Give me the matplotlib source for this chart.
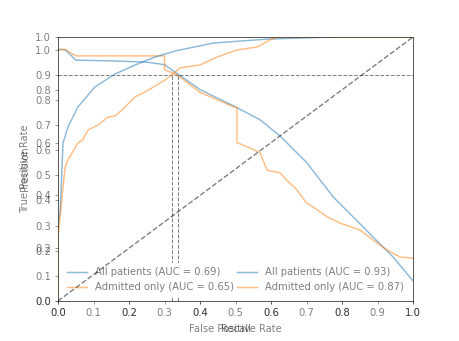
import numpy as np
import matplotlib
matplotlib.use("Agg")
import matplotlib.pyplot as plt

# ROC curves (false positive rate, true positive rate)
fpr_all = [0.0, 0.0, 0.006, 0.011, 0.014, 0.028, 0.056, 0.104, 0.161, 0.217,
           0.273, 0.330, 0.437, 0.589, 0.775, 1.0]
tpr_all = [0.0, 0.30, 0.333, 0.496, 0.598, 0.659, 0.735, 0.811, 0.860, 0.894,
           0.924, 0.947, 0.977, 0.992, 1.0, 1.0]
fpr_adm = [0.0, 0.0, 0.003, 0.02, 0.028, 0.056, 0.07, 0.085, 0.113, 0.141,
           0.16, 0.18, 0.217, 0.245, 0.265, 0.301, 0.33, 0.344, 0.4, 0.448,
           0.504, 0.561, 0.597, 0.62, 1.0]
tpr_adm = [0.0, 0.25, 0.28, 0.508, 0.534, 0.598, 0.612, 0.648, 0.667, 0.697,
           0.700, 0.723, 0.773, 0.792, 0.807, 0.837, 0.867, 0.883, 0.894, 0.924,
           0.951, 0.962, 0.989, 1.0, 1.0]
roc_labels = ["All patients (AUC = 0.93)", "Admitted only (AUC = 0.87)"]

# Precision-recall curves
rec_all = [0.0, 0.02, 0.05, 0.15, 0.25, 0.30, 0.335, 0.4, 0.493, 0.569,
           0.625, 0.701, 0.775, 0.831, 0.887, 0.944, 1.0]
prec_all = [1.0, 1.0, 0.958, 0.955, 0.95, 0.94, 0.905, 0.841, 0.777, 0.721,
            0.657, 0.55, 0.414, 0.335, 0.255, 0.175, 0.08]
rec_adm = [0.0, 0.02, 0.05, 0.30, 0.30, 0.335, 0.40, 0.493, 0.504, 0.504,
           0.532, 0.569, 0.589, 0.625, 0.645, 0.673, 0.70, 0.718, 0.758, 0.794,
           0.85, 0.887, 0.927, 0.963, 1.0]
prec_adm = [1.0, 1.0, 0.975, 0.975, 0.92, 0.90, 0.83, 0.773, 0.77, 0.63,
            0.614, 0.59, 0.52, 0.51, 0.48, 0.442, 0.39, 0.375, 0.335, 0.31,
            0.283, 0.243, 0.203, 0.175, 0.17]
pr_labels = ["All patients (AUC = 0.69)", "Admitted only (AUC = 0.65)"]

# operating point lines on the PR plot
prec_target = 0.9
recall_at_target = [0.32, 0.337]

s = 0.717  # default 6.4x4.8 figure shrunk to 459x341
plt.rcParams.update({
    "font.size": 10 * s,
    "lines.linewidth": 1.5 * s,
    "axes.linewidth": 0.8 * s,
    "xtick.major.size": 3.5 * s, "ytick.major.size": 3.5 * s,
    "xtick.major.width": 0.8 * s, "ytick.major.width": 0.8 * s,
    "xtick.major.pad": 3.5 * s, "ytick.major.pad": 3.5 * s,
})

A = 0.5
ink = (0, 0, 0, A)

fig = plt.figure(figsize=(4.59, 3.41), dpi=100)
pos = [58 / 459, 40 / 341, 355 / 459, 264 / 341]
ax_pr = fig.add_axes(pos)
ax_roc = fig.add_axes(pos)
ax_roc.patch.set_visible(False)

# PR figure (drawn underneath)
ax_pr.plot(rec_all, prec_all, color="C0", alpha=A, label=pr_labels[0])
ax_pr.plot(rec_adm, prec_adm, color="C1", alpha=A, label=pr_labels[1])
ax_pr.axhline(prec_target, color="k", ls="--", lw=1.0 * s, alpha=A)
for r in recall_at_target:
    ax_pr.plot([r, r], [0, prec_target], color="k", ls="--", lw=1.0 * s, alpha=A)
ax_pr.set_xlim(0, 1)
ax_pr.set_ylim(0, 1.05)
ax_pr.set_xticks(np.arange(0, 1.01, 0.1))
ax_pr.set_yticks(np.arange(0, 1.01, 0.1))
ax_pr.set_xlabel("Recall", color=ink)
ax_pr.set_ylabel("Precision", color=ink)
ax_pr.legend(loc="lower left", framealpha=1, edgecolor="none",
             labelcolor=[ink, ink])

# ROC figure (drawn on top)
ax_roc.plot(fpr_all, tpr_all, color="C0", alpha=A, label=roc_labels[0])
ax_roc.plot(fpr_adm, tpr_adm, color="C1", alpha=A, label=roc_labels[1])
ax_roc.plot([0, 1], [0, 1], color="k", ls="--", lw=1.4 * s, alpha=A)
ax_roc.set_xlim(0, 1)
ax_roc.set_ylim(0, 1)
ax_roc.set_xticks(np.arange(0, 1.01, 0.2))
ax_roc.set_yticks(np.arange(0, 1.01, 0.2))
ax_roc.set_xlabel("False Positive Rate", color=ink)
ax_roc.set_ylabel("True Positive Rate", color=ink)
ax_roc.legend(loc="lower right", frameon=False, labelcolor=[ink, ink])

for ax in (ax_pr, ax_roc):
    ax.tick_params(color=ink, labelcolor=ink)
    for sp in ax.spines.values():
        sp.set_edgecolor(ink)

fig.savefig("out.png", dpi=100)
